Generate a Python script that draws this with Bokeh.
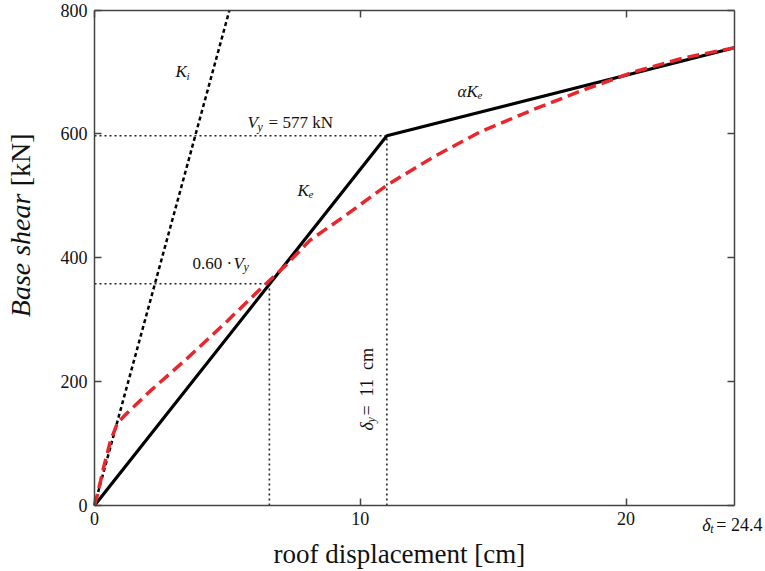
import math
from bokeh.plotting import figure
from bokeh.models import Label, LinearAxis, Range1d, FixedTicker
from bokeh.embed import file_html
from bokeh.resources import INLINE

# ---- data ----
disp_pushover = [0, 0.11, 0.23, 0.34, 0.6, 0.86, 1.2, 2.1, 3.5, 5.0, 6.13, 7.2, 8.1, 9.37, 11.0, 12.76, 14.5, 16.5, 18.4, 20.3, 22.2, 24.08]
shear_pushover = [0, 18, 40, 61, 104, 133, 148, 185, 238, 298, 345, 388, 428, 466, 517, 563, 603, 639, 671, 700, 723, 739]

disp_bilinear = [0, 11.0, 24.08]
shear_bilinear = [0, 597, 739]

disp_initial = [0, 5.08]
shear_initial = [0, 800]

yield_disp = 11.0
yield_shear = 597
disp_60 = 6.58
shear_60 = 358

x_ticks = [0, 10, 20]
y_ticks = [0, 200, 400, 600, 800]
x_max = 24.08
y_max = 800

FONT = "Liberation Serif"
INK = "#111111"
NBSP = "\u00a0"

W, H = 765, 571
# plot box in canvas pixels
BOX_L, BOX_R, BOX_T, BOX_B = 94, 734, 9.5, 505
sx = (BOX_R - BOX_L) / x_max
sy = (BOX_B - BOX_T) / y_max
x_range = Range1d(-BOX_L / sx, x_max + (W - BOX_R) / sx)
y_range = Range1d(-(H - BOX_B) / sy, y_max + BOX_T / sy)

p = figure(width=W, height=H, x_range=x_range, y_range=y_range,
           output_backend="svg", toolbar_location=None,
           min_border_left=0, min_border_right=0, min_border_top=0, min_border_bottom=0)
p.xgrid.visible = False
p.ygrid.visible = False
p.outline_line_color = None
p.background_fill_color = "white"
p.border_fill_color = "white"

def style_axis(ax, ticks, bounds, loc, labels=True):
    ax.ticker = FixedTicker(ticks=ticks)
    ax.bounds = bounds
    ax.fixed_location = loc
    ax.axis_line_color = "#444444"
    ax.axis_line_width = 1.5
    ax.major_tick_line_color = "#444444"
    ax.major_tick_line_width = 1.5
    ax.major_tick_in = 7
    ax.major_tick_out = 0
    ax.minor_tick_line_color = None
    ax.major_label_text_font = FONT
    ax.major_label_text_color = INK
    ax.major_label_text_font_size = "18px"
    if not labels:
        ax.major_label_overrides = {t: "" for t in ticks}
        ax.major_label_standoff = 0

style_axis(p.xaxis[0], x_ticks, (0, x_max), 0)
p.xaxis[0].major_label_standoff = 6
style_axis(p.yaxis[0], y_ticks, (0, y_max), 0)
p.yaxis[0].major_label_standoff = 7

top_axis = LinearAxis()
p.add_layout(top_axis, "above")
style_axis(top_axis, x_ticks, (0, x_max), y_max, labels=False)
right_axis = LinearAxis()
p.add_layout(right_axis, "right")
style_axis(right_axis, y_ticks, (0, y_max), x_max, labels=False)

# reference dotted lines
dot = dict(line_color="#222222", line_width=1.6, line_dash="2 3")
p.line([0, yield_disp], [yield_shear, yield_shear], **dot)
p.line([yield_disp, yield_disp], [0, yield_shear], **dot)
p.line([0, disp_60], [shear_60, shear_60], **dot)
p.line([disp_60, disp_60], [0, shear_60], **dot)

# initial stiffness line
p.line(disp_initial, shear_initial, line_color="black", line_width=2.5, line_dash="4 3")
# bilinear idealisation
p.line(disp_bilinear, shear_bilinear, line_color="black", line_width=3.2)
# pushover curve
p.line(disp_pushover, shear_pushover, line_color="#e8262b", line_width=3.5, line_dash="12 6")

def txt(x, y, text, size=17, style="normal", dx=0, dy=0, angle=0, align="left", baseline="middle"):
    p.add_layout(Label(x=x, y=y, text=text, x_offset=dx, y_offset=dy,
                       angle=angle, text_font=FONT, text_font_size=f"{size}px",
                       text_font_style=style, text_align=align, text_baseline=baseline,
                       text_color=INK))

# K_i
txt(3.05, 700, "K", style="italic")
txt(3.05, 700, "i", size=11, style="italic", dx=11, dy=-4)
# V_y = 577 kN
txt(5.76, 618, "V", style="italic")
txt(5.76, 618, "y", size=12, style="italic", dx=10, dy=-4)
txt(5.76, 618, "= 577 kN", dx=21)
# K_e
txt(7.64, 509, "K", style="italic")
txt(7.64, 509, "e", size=11, style="italic", dx=11, dy=-4)
# alpha K_e
txt(13.66, 668, "α", style="italic")
txt(13.66, 668, "K", style="italic", dx=9)
txt(13.66, 668, "e", size=11, style="italic", dx=20, dy=-4)
# 0.60 . V_y
txt(3.69, 391, "0.60 ·")
txt(3.69, 391, "V", style="italic", dx=41)
txt(3.69, 391, "y", size=12, style="italic", dx=51, dy=-4)
# delta_y = 11 cm (rotated)
rot = math.pi / 2
txt(10.27, 121, "δ", size=18, style="italic", angle=rot)
txt(10.27, 121, "y", size=12, style="italic", angle=rot, dx=4, dy=8)
txt(10.27, 121, "=" + NBSP * 2 + "11" + NBSP * 2 + "cm", size=18, angle=rot, dy=15)
# delta_t = 24.4 below the right corner
txt(22.87, -32, "δ", size=18, style="italic")
txt(22.87, -32, "t", size=12, style="italic", dx=8, dy=-4)
txt(22.87, -32, "= 24.4", size=18, dx=14)

# axis titles
txt(11.47, -79, "roof displacement [cm]", size=27, align="center")
txt(-2.78, 304, "Base shear", size=28, style="italic", angle=rot)
txt(-2.78, 304, "[kN]", size=28, angle=rot, dy=131)

open("out.html", "w").write(file_html(p, INLINE))
